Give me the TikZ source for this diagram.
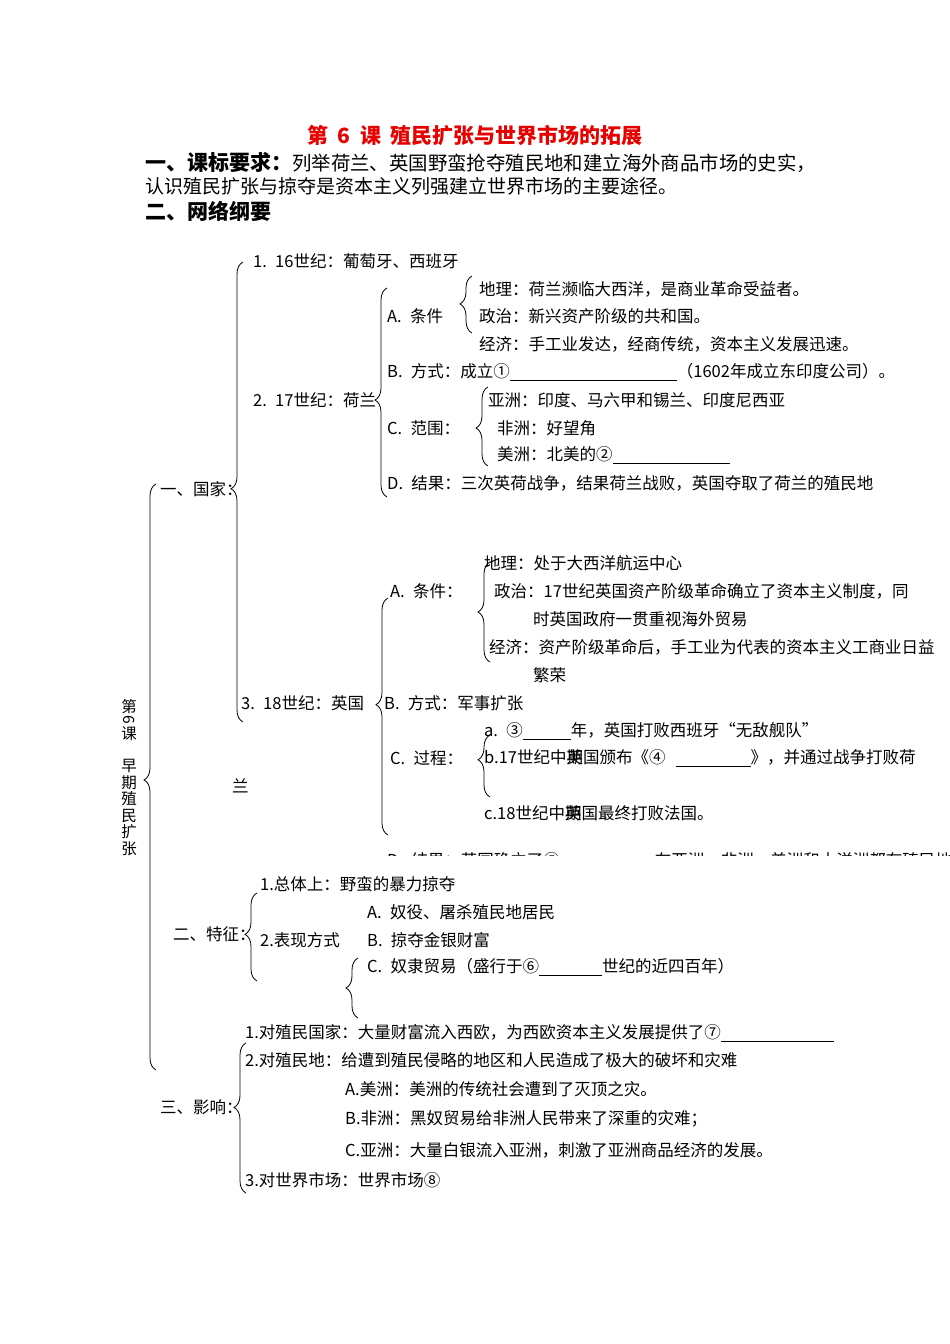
\documentclass[tikz,border=0pt]{standalone}
\usepackage{fontspec}
\setmainfont{Noto Sans CJK SC}
\usetikzlibrary{decorations.pathreplacing}
\definecolor{titlered}{RGB}{230, 0, 0}
\newcommand{\kong}[1]{\rule[-2.5pt]{#1}{0.7pt}}
\tikzset{
  wenzi/.style={anchor=west, inner sep=0pt, font=\fontsize{16.5}{16.5}\selectfont},
  kuohao/.style={decorate, decoration={brace, amplitude=12pt, aspect=#1}, line width=0.8pt},
  shuxie/.style={inner sep=0pt, font=\fontsize{15.5}{16.6}\selectfont}
}

\begin{document}
\begin{tikzpicture}[x=1pt, y=-1pt]
\useasboundingbox (0,0) rectangle (950,1344);
% title and requirements
\node[font=\fontsize{21}{21}\selectfont\bfseries, text=titlered] (biaoti) at (475,135)
{第\hspace{0.45em}6\hspace{0.45em}课\hspace{0.45em}殖民扩张与世界市场的拓展};
\node[anchor=west, inner sep=0pt, font=\fontsize{19.4}{19.4}\selectfont] (yaoqiu) at (145,162)
{{\fontsize{21}{21}\selectfont\bfseries 一、课标要求：}列举荷兰、英国野蛮抢夺殖民地和建立海外商品市场的史实，};
\node[anchor=west, inner sep=0pt, font=\fontsize{19}{19}\selectfont] (yaoqiu2) at (145,186)
{认识殖民扩张与掠夺是资本主义列强建立世界市场的主要途径。};
\node[anchor=west, inner sep=0pt, font=\fontsize{21}{21}\selectfont\bfseries] (gangyao) at (145,211) {二、网络纲要};

% vertical label
\node[shuxie] (di) at (129,707) {第};
\node[shuxie, rotate=-90] (liu) at (129,720) {6};
\node[shuxie] (ke) at (129,734) {课};
\node[shuxie, align=center, anchor=north] (zaoqi) at (129,759) {早\\期\\殖\\民\\扩\\张};
\draw[kuohao=0.495] (156,1070) -- (156,484);

% 一、国家
\node[wenzi] (guojia) at (160,489) {一、国家：};
\draw[kuohao=0.507] (243,722) -- (243,262);
\node[wenzi] (shiji16) at (253,261) {1.\hspace{0.5em}16世纪：葡萄牙、西班牙};
\node[wenzi] (shiji17) at (253,400) {2.\hspace{0.5em}17世纪：荷兰};
\draw[kuohao=0.464] (387,497) -- (387,288);
\node[wenzi] (hl_tiaojian) at (387,316) {A.\hspace{0.5em}条件};
\draw[kuohao=0.51] (472,333) -- (472,276);
\node[wenzi] (hl_dili) at (479,289) {地理：荷兰濒临大西洋，是商业革命受益者。};
\node[wenzi] (hl_zhengzhi) at (479,316) {政治：新兴资产阶级的共和国。};
\node[wenzi] (hl_jingji) at (479,344) {经济：手工业发达，经商传统，资本主义发展迅速。};
\node[wenzi] (hl_fangshi) at (387,372) {B.\hspace{0.5em}方式：成立①\kong{167pt}（1602年成立东印度公司）。};
\node[wenzi] (hl_fanwei) at (387,428) {C.\hspace{0.5em}范围：};
\draw[kuohao=0.48] (488,466) -- (488,387);
\node[wenzi] (hl_yazhou) at (488,400) {亚洲：印度、马六甲和锡兰、印度尼西亚};
\node[wenzi] (hl_feizhou) at (497,428) {非洲：好望角};
\node[wenzi] (hl_meizhou) at (497,455) {美洲：北美的②\kong{117pt}};
\node[wenzi] (hl_jieguo) at (387,483) {D.\hspace{0.5em}结果：三次英荷战争，结果荷兰战败，英国夺取了荷兰的殖民地};

\node[wenzi] (shiji18) at (241,703) {3.\hspace{0.5em}18世纪：英国};
\node[wenzi] (lan) at (232,786) {兰};
\draw[kuohao=0.55] (388,835) -- (388,598);
\node[wenzi] (yg_tiaojian) at (390,591) {A.\hspace{0.5em}条件：};
\draw[kuohao=0.5] (490,662) -- (490,562);
\node[wenzi] (yg_dili) at (484,563) {地理：处于大西洋航运中心};
\node[wenzi] (yg_zhengzhi) at (494,591) {政治：17世纪英国资产阶级革命确立了资本主义制度，同};
\node[wenzi] (yg_zhengzhi2) at (533,619) {时英国政府一贯重视海外贸易};
\node[wenzi] (yg_jingji) at (489,647) {经济：资产阶级革命后，手工业为代表的资本主义工商业日益};
\node[wenzi] (yg_jingji2) at (533,675) {繁荣};
\node[wenzi] (yg_fangshi) at (384,703) {B.\hspace{0.5em}方式：军事扩张};
\node[wenzi] (yg_guocheng) at (390,758) {C.\hspace{0.5em}过程：};
\draw[kuohao=0.6] (490,797) -- (490,735);
\node[wenzi] (yg_a) at (484,731) {a.\hspace{0.5em}③\kong{48pt}年，英国打败西班牙“无敌舰队”};
\node[wenzi] (yg_b) at (484,758) {b.17世纪中\rlap{期}英国颁布《④\hspace{10pt}\kong{75pt}》，并通过战争打败荷};
\node[wenzi] (yg_c) at (484,813) {c.18世纪中\rlap{期}英国最终打败法国。};
\begin{scope}
\clip (370,840) rectangle (950,855);
\node[wenzi] (yg_jieguo) at (387,861) {D.\hspace{0.5em}结果：英国确立了⑤\kong{95pt}在亚洲、非洲、美洲和大洋洲都有殖民地};
\end{scope}

% 二、特征
\node[wenzi] (tezheng) at (173,934) {二、特征：};
\draw[kuohao=0.53] (257,981) -- (257,893);
\node[wenzi] (zongti) at (260,884) {1.总体上：野蛮的暴力掠夺};
\node[wenzi] (biaoxian) at (260,940) {2.表现方式};
\node[wenzi] (nuyi) at (367,912) {A.\hspace{0.5em}奴役、屠杀殖民地居民};
\node[wenzi] (lveduo) at (367,940) {B.\hspace{0.5em}掠夺金银财富};
\draw[kuohao=0.5] (358,1018) -- (358,958);
\node[wenzi] (nuli) at (367,967) {C.\hspace{0.5em}奴隶贸易（盛行于⑥\kong{63pt}世纪的近四百年）};

% 三、影响
\node[wenzi] (yingxiang) at (160,1107) {三、影响：};
\draw[kuohao=0.57] (246,1193) -- (246,1043);
\node[wenzi] (zhimin_guo) at (245,1033) {1.对殖民国家：大量财富流入西欧，为西欧资本主义发展提供了⑦\kong{113pt}};
\node[wenzi] (zhimin_di) at (245,1060) {2.对殖民地：给遭到殖民侵略的地区和人民造成了极大的破坏和灾难};
\node[wenzi] (meizhou) at (345,1089) {A.美洲：美洲的传统社会遭到了灭顶之灾。};
\node[wenzi] (feizhou) at (345,1119) {B.非洲：黑奴贸易给非洲人民带来了深重的灾难；};
\node[wenzi] (yazhou) at (345,1150) {C.亚洲：大量白银流入亚洲，刺激了亚洲商品经济的发展。};
\node[wenzi] (shichang) at (245,1180) {3.对世界市场：世界市场⑧};
\end{tikzpicture}
\end{document}
